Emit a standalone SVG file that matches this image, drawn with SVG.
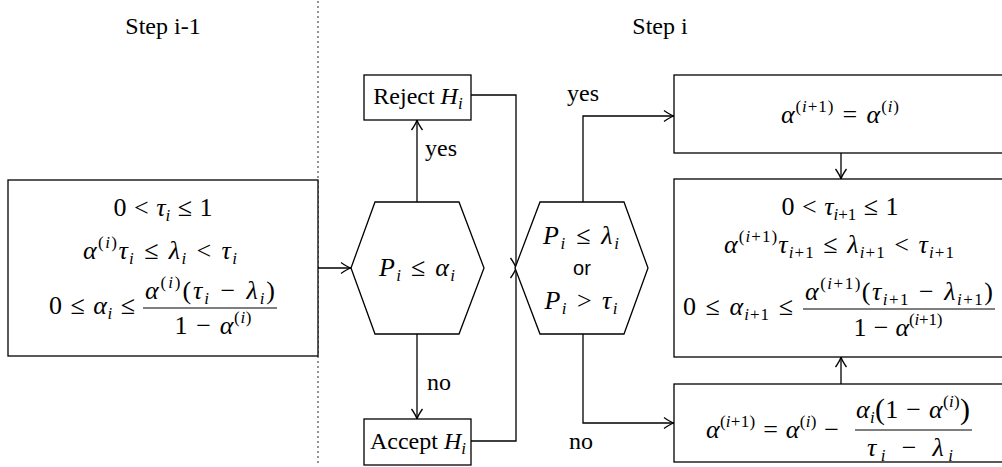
<svg xmlns="http://www.w3.org/2000/svg" width="1002" height="467" viewBox="0 0 1002 467">
<style>
.t{font-family:"Liberation Serif","DejaVu Serif",serif;font-size:24px;fill:#000;text-anchor:middle}
.m{font-size:26px;word-spacing:1px}
.e{text-anchor:end}
.i{font-style:italic}
.s{font-size:17px;word-spacing:0}
.or{font-family:"Liberation Sans",Arial,sans-serif;font-size:20px;fill:#000;text-anchor:middle}
.box{fill:#fff;stroke:#000;stroke-width:1.3}
.c{fill:none;stroke:#000;stroke-width:1.3}
.bar{stroke:#000;stroke-width:1.2}
</style>
<defs>
<marker id="arr" viewBox="-11 -7 13 14" markerWidth="13" markerHeight="14" refX="0" refY="0" orient="auto" markerUnits="userSpaceOnUse">
<path d="M-10,-5.5 Q-4,-1.2 0,0 Q-4,1.2 -10,5.5" fill="none" stroke="#000" stroke-width="1.3"/>
</marker>
</defs>
<rect width="1002" height="467" fill="#fff"/>
<line x1="318" y1="2" x2="318" y2="467" stroke="#000" stroke-width="1.6" stroke-dasharray="0 5" stroke-linecap="round"/>
<text class="t" x="163" y="34">Step i-1</text>
<text class="t" x="660" y="34">Step i</text>

<g id="connectors">
<path class="c" d="M318,268 H351" marker-end="url(#arr)"/>
<path class="c" d="M417,202 V120" marker-end="url(#arr)"/>
<path class="c" d="M417,334 V419" marker-end="url(#arr)"/>
<path class="c" d="M471,95 H516 V268" marker-end="url(#arr)"/>
<path class="c" d="M471,441 H516 V268" marker-end="url(#arr)"/>
<path class="c" d="M583,202 V116 H674" marker-end="url(#arr)"/>
<path class="c" d="M583,334 V423 H674" marker-end="url(#arr)"/>
<path class="c" d="M841,153 V179" marker-end="url(#arr)"/>
<path class="c" d="M841,384 V357" marker-end="url(#arr)"/>
<text class="t" x="441" y="156">yes</text>
<text class="t" x="439" y="390">no</text>
<text class="t" x="583" y="101">yes</text>
<text class="t" x="581" y="449">no</text>
</g>

<g id="start">
<rect class="box" x="8" y="180" width="310" height="176"/>
<text class="t m" x="163" y="216">0 &lt; <tspan class="i">τ</tspan><tspan class="s i" dy="5">i</tspan><tspan dy="-5"> ≤ 1</tspan></text>
<text class="t m" x="160" y="259" textLength="154"><tspan class="i">α</tspan><tspan class="s" dy="-11">(<tspan class="i">i</tspan>)</tspan><tspan class="i" dy="11">τ</tspan><tspan class="s i" dy="5">i</tspan><tspan dy="-5"> ≤ </tspan><tspan class="i">λ</tspan><tspan class="s i" dy="5">i</tspan><tspan dy="-5"> &lt; </tspan><tspan class="i">τ</tspan><tspan class="s i" dy="5">i</tspan></text>
<text class="t m e" x="135" y="314" textLength="86">0 ≤ <tspan class="i">α</tspan><tspan class="s i" dy="5">i</tspan><tspan dy="-5"> ≤</tspan></text>
<text class="t m" x="210" y="299" textLength="130"><tspan class="i">α</tspan><tspan class="s" dy="-11">(<tspan class="i">i</tspan>)</tspan><tspan dy="11">(</tspan><tspan class="i">τ</tspan><tspan class="s i" dy="5">i</tspan><tspan dy="-5">  −  </tspan><tspan class="i">λ</tspan><tspan class="s i" dy="5">i</tspan><tspan dy="-5">)</tspan></text>
<line class="bar" x1="143" y1="308" x2="277" y2="308"/>
<text class="t m" x="213" y="334" textLength="77">1 − <tspan class="i">α</tspan><tspan class="s" dy="-11">(<tspan class="i">i</tspan>)</tspan></text>
</g>

<g id="test1">
<polygon class="box" points="375,202 459,202 484,268 459,334 375,334 351,268"/>
<text class="t m" x="417" y="276" textLength="76"><tspan class="i">P</tspan><tspan class="s i" dy="5">i</tspan><tspan dy="-5"> ≤ </tspan><tspan class="i">α</tspan><tspan class="s i" dy="5">i</tspan></text>
</g>

<g id="reject">
<rect class="box" x="364" y="75" width="107" height="45"/>
<text class="t" x="418" y="104">Reject <tspan class="i">H</tspan><tspan class="s i" dy="5">i</tspan></text>
</g>

<g id="accept">
<rect class="box" x="364" y="419" width="107" height="46"/>
<text class="t" x="418" y="449">Accept <tspan class="i">H</tspan><tspan class="s i" dy="5">i</tspan></text>
</g>

<g id="test2">
<polygon class="box" points="540,202 624,202 648,268 624,334 540,334 515,268"/>
<text class="t m" x="581" y="244" textLength="76"><tspan class="i">P</tspan><tspan class="s i" dy="5">i</tspan><tspan dy="-5"> ≤ </tspan><tspan class="i">λ</tspan><tspan class="s i" dy="5">i</tspan></text>
<text class="or" x="582" y="275">or</text>
<text class="t m" x="581" y="309" textLength="73"><tspan class="i">P</tspan><tspan class="s i" dy="5">i</tspan><tspan dy="-5"> &gt; </tspan><tspan class="i">τ</tspan><tspan class="s i" dy="5">i</tspan></text>
</g>

<g id="keep">
<rect class="box" x="674" y="75" width="340" height="78"/>
<text class="t m" x="840" y="123" textLength="118"><tspan class="i">α</tspan><tspan class="s" dy="-11">(<tspan class="i">i</tspan>+1)</tspan><tspan dy="11"> = </tspan><tspan class="i">α</tspan><tspan class="s" dy="-11">(<tspan class="i">i</tspan>)</tspan></text>
</g>

<g id="next">
<rect class="box" x="674" y="179" width="340" height="178"/>
<text class="t m" x="840" y="215">0 &lt; <tspan class="i">τ</tspan><tspan class="s" dy="5"><tspan class="i">i</tspan>+1</tspan><tspan dy="-5"> ≤ 1</tspan></text>
<text class="t m" x="839" y="253" textLength="230"><tspan class="i">α</tspan><tspan class="s" dy="-11">(<tspan class="i">i</tspan>+1)</tspan><tspan class="i" dy="11">τ</tspan><tspan class="s" dy="5"><tspan class="i">i</tspan>+1</tspan><tspan dy="-5"> ≤ </tspan><tspan class="i">λ</tspan><tspan class="s" dy="5"><tspan class="i">i</tspan>+1</tspan><tspan dy="-5"> &lt; </tspan><tspan class="i">τ</tspan><tspan class="s" dy="5"><tspan class="i">i</tspan>+1</tspan></text>
<text class="t m e" x="793" y="315" textLength="110">0 ≤ <tspan class="i">α</tspan><tspan class="s" dy="5"><tspan class="i">i</tspan>+1</tspan><tspan dy="-5"> ≤</tspan></text>
<text class="t m" x="899" y="300" textLength="188"><tspan class="i">α</tspan><tspan class="s" dy="-11">(<tspan class="i">i</tspan>+1)</tspan><tspan dy="11">(</tspan><tspan class="i">τ</tspan><tspan class="s" dy="5"><tspan class="i">i</tspan>+1</tspan><tspan dy="-5">  −  </tspan><tspan class="i">λ</tspan><tspan class="s" dy="5"><tspan class="i">i</tspan>+1</tspan><tspan dy="-5">)</tspan></text>
<line class="bar" x1="803" y1="309" x2="995" y2="309"/>
<text class="t m" x="898" y="336" textLength="89">1 − <tspan class="i">α</tspan><tspan class="s" dy="-11">(<tspan class="i">i</tspan>+1)</tspan></text>
</g>

<g id="update">
<rect class="box" x="674" y="384" width="340" height="78"/>
<text class="t m e" x="839" y="438" textLength="133"><tspan class="i">α</tspan><tspan class="s" dy="-11">(<tspan class="i">i</tspan>+1)</tspan><tspan dy="11"> = </tspan><tspan class="i">α</tspan><tspan class="s" dy="-11">(<tspan class="i">i</tspan>)</tspan><tspan dy="11"> −</tspan></text>
<text class="t m" x="913" y="418" textLength="114"><tspan class="i">α</tspan><tspan class="s i" dy="5">i</tspan><tspan dy="-4" font-size="30">(</tspan><tspan dy="-1">1 − </tspan><tspan class="i">α</tspan><tspan class="s" dy="-11">(<tspan class="i">i</tspan>)</tspan><tspan dy="12" font-size="30">)</tspan></text>
<line class="bar" x1="855" y1="430" x2="972" y2="430"/>
<text class="t m" x="910" y="456" textLength="86"><tspan class="i">τ</tspan><tspan class="s i" dy="5">i</tspan><tspan dy="-5">  −  </tspan><tspan class="i">λ</tspan><tspan class="s i" dy="5">i</tspan></text>
</g>
</svg>
